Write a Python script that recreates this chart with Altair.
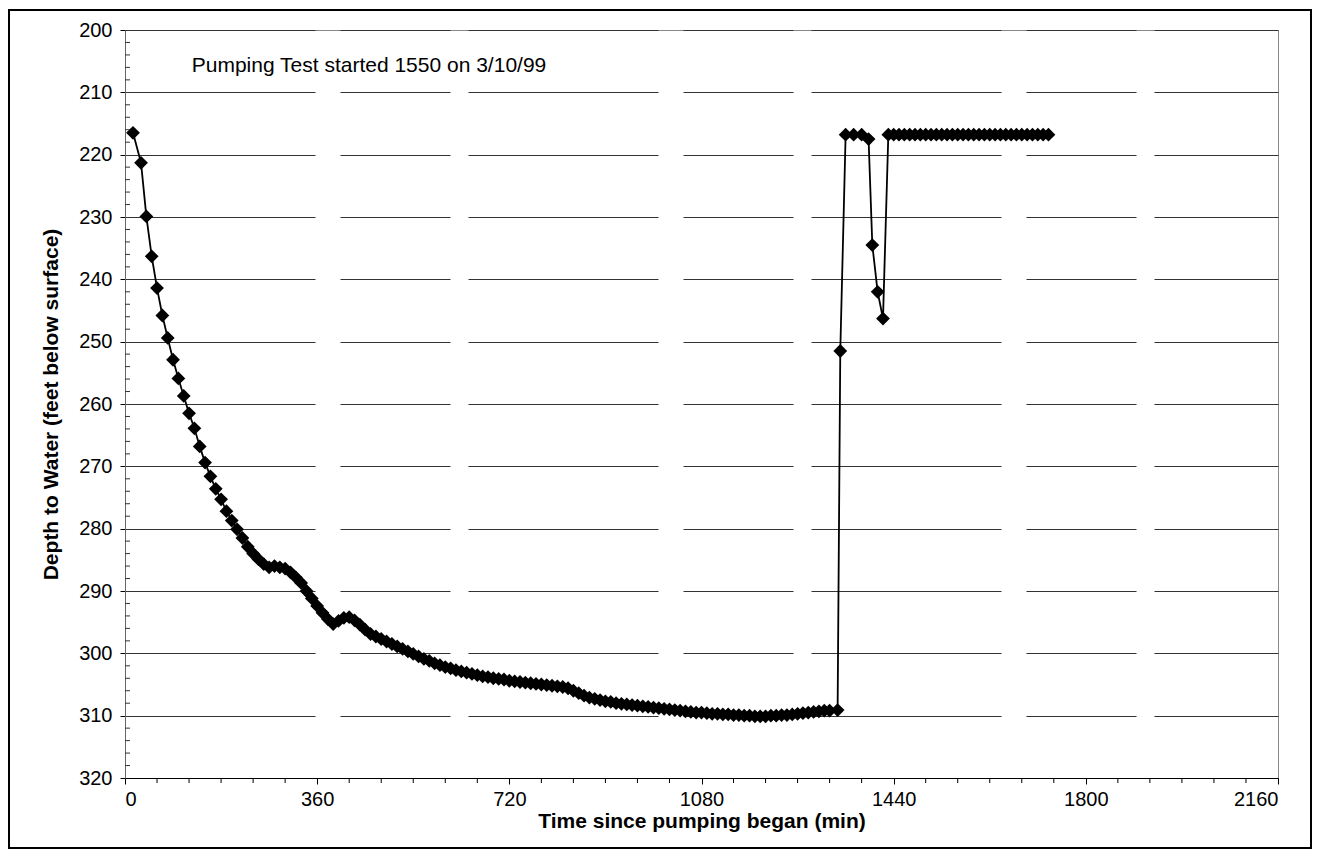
import altair as alt
import pandas as pd

# ---- data ----
drawdown_time = [15, 30, 40, 50, 60, 70, 80, 90, 100, 110,
                 120, 130, 140, 150, 160, 170, 180, 190, 200, 210,
                 220, 230, 240, 250, 260, 270, 280, 290, 300, 310,
                 320, 330, 340, 350, 360, 370, 380, 390, 400, 410,
                 420, 430, 440, 450, 460, 470, 480, 490, 500, 510,
                 520, 530, 540, 550, 560, 570, 580, 590, 600, 610,
                 620, 630, 640, 650, 660, 670, 680, 690, 700, 710,
                 720, 730, 740, 750, 760, 770, 780, 790, 800, 810,
                 820, 830, 840, 850, 860, 870, 880, 890, 900, 910,
                 920, 930, 940, 950, 960, 970, 980, 990, 1000, 1010,
                 1020, 1030, 1040, 1050, 1060, 1070, 1080, 1090, 1100, 1110,
                 1120, 1130, 1140, 1150, 1160, 1170, 1180, 1190, 1200, 1210,
                 1220, 1230, 1240, 1250, 1260, 1270, 1280, 1290, 1300, 1310,
                 1320, 1335]
drawdown_depth = [216.5, 221.3, 229.9, 236.3, 241.4, 245.8, 249.4, 252.9, 255.9, 258.7,
                  261.5, 263.9, 266.8, 269.4, 271.6, 273.6, 275.3, 277.2, 278.7, 280.1,
                  281.5, 282.9, 284.0, 284.9, 285.7, 286.2, 286.0, 286.2, 286.4, 287.0,
                  287.8, 288.7, 290.0, 291.2, 292.4, 293.5, 294.5, 295.3, 294.8, 294.3,
                  294.2, 294.7, 295.4, 296.2, 296.9, 297.3, 297.7, 298.1, 298.5, 298.9,
                  299.3, 299.7, 300.1, 300.5, 300.9, 301.2, 301.6, 301.9, 302.2, 302.4,
                  302.7, 302.9, 303.1, 303.3, 303.5, 303.7, 303.8, 304.0, 304.1, 304.2,
                  304.4, 304.5, 304.6, 304.7, 304.8, 304.9, 305.0, 305.1, 305.2, 305.3,
                  305.4, 305.6, 306.0, 306.4, 306.8, 307.1, 307.3, 307.5, 307.7, 307.8,
                  308.0, 308.1, 308.2, 308.3, 308.4, 308.5, 308.6, 308.7, 308.8, 308.9,
                  309.0, 309.1, 309.2, 309.3, 309.4, 309.5, 309.5, 309.6, 309.7, 309.7,
                  309.8, 309.8, 309.9, 309.9, 310.0, 310.0, 310.1, 310.1, 310.1, 310.0,
                  310.0, 309.9, 309.9, 309.8, 309.7, 309.6, 309.5, 309.4, 309.3, 309.2,
                  309.2, 309.1]

recovery_time = [1340, 1350, 1365, 1380, 1393, 1400, 1410, 1420,
                 1430, 1440, 1450, 1460, 1470, 1480, 1490, 1500, 1510, 1520,
                 1530, 1540, 1550, 1560, 1570, 1580, 1590, 1600, 1610, 1620,
                 1630, 1640, 1650, 1660, 1670, 1680, 1690, 1700, 1710, 1720, 1730]
recovery_depth = [251.5, 216.8, 216.8, 216.8, 217.5, 234.5, 242.0, 246.3,
                  216.8, 216.8, 216.8, 216.8, 216.8, 216.8, 216.8, 216.8, 216.8, 216.8,
                  216.8, 216.8, 216.8, 216.8, 216.8, 216.8, 216.8, 216.8, 216.8, 216.8,
                  216.8, 216.8, 216.8, 216.8, 216.8, 216.8, 216.8, 216.8, 216.8, 216.8, 216.8]

x_ticks = [0, 360, 720, 1080, 1440, 1800, 2160]
y_ticks = [200, 210, 220, 230, 240, 250, 260, 270, 280, 290, 300, 310, 320]
x_minor = [60, 120, 180, 240, 300, 420, 480, 540, 600, 660, 780, 840, 900, 960, 1020,
           1140, 1200, 1260, 1320, 1380, 1500, 1560, 1620, 1680, 1740,
           1860, 1920, 1980, 2040, 2100]
y_minor = [202, 204, 206, 208, 212, 214, 216, 218, 222, 224, 226, 228, 232, 234, 236, 238,
           242, 244, 246, 248, 252, 254, 256, 258, 262, 264, 266, 268, 272, 274, 276, 278,
           282, 284, 286, 288, 292, 294, 296, 298, 302, 304, 306, 308, 312, 314, 316, 318]

note_text = ["Pumping Test started 1550 on 3/10/99"]
note_time = [125]
note_depth = [205.7]

x_title = "Time since pumping began (min)"
y_title = "Depth to Water (feet below surface)"

# ---- tables ----
series = pd.DataFrame({
    "t": drawdown_time + recovery_time,
    "d": drawdown_depth + recovery_depth,
})
series["order"] = range(len(series))
notes = pd.DataFrame({"t": note_time, "d": note_depth, "label": note_text})
xminor_df = pd.DataFrame({"t": x_minor})
yminor_df = pd.DataFrame({"d": y_minor})
frame_df = pd.DataFrame({"a": [0]})

FONT = "Liberation Sans"
W, H = 1153, 748

xscale = alt.Scale(domain=[0, 2160], nice=False, zero=False)
yscale = alt.Scale(domain=[200, 320], nice=False, zero=False, reverse=True)

x_enc = alt.X("t:Q", scale=xscale, title=x_title,
              axis=alt.Axis(values=x_ticks, format="d", grid=False,
                            tickSize=6, tickColor="#000", domainColor="#000",
                            labelFontSize=20, labelPadding=5, labelColor="#000",
                            titleFontSize=21, titleFontWeight="bold", titlePadding=1,
                            titleColor="#000"))
y_enc = alt.Y("d:Q", scale=yscale, title=y_title,
              axis=alt.Axis(values=y_ticks, format="d", grid=True,
                            gridColor="#333", gridWidth=1, gridDash=[190, 25, 110, 18],
                            tickSize=5, tickColor="#000", domainColor="#666",
                            labelFontSize=20, labelPadding=8, labelColor="#000",
                            titleFontSize=21, titleFontWeight="bold", titlePadding=17,
                            titleColor="#000"))

line = alt.Chart(series).mark_line(color="#000", strokeWidth=1.8).encode(
    x=x_enc, y=y_enc, order="order:Q")
pts = alt.Chart(series).mark_point(shape="diamond", filled=True, size=190,
                                   color="#000", opacity=1).encode(
    x=alt.X("t:Q", scale=xscale), y=alt.Y("d:Q", scale=yscale))

note = alt.Chart(notes).mark_text(align="left", baseline="middle", fontSize=21,
                                  font=FONT, color="#000").encode(
    x=alt.X("t:Q", scale=xscale), y=alt.Y("d:Q", scale=yscale), text="label:N")

xminor = alt.Chart(xminor_df).mark_rule(color="#000", strokeWidth=1).encode(
    x=alt.X("t:Q", scale=xscale), y=alt.value(H), y2=alt.value(H + 5))
yminor = alt.Chart(yminor_df).mark_rule(color="#333", strokeWidth=1).encode(
    y=alt.Y("d:Q", scale=yscale), x=alt.value(0), x2=alt.value(5))

frame = alt.Chart(frame_df).mark_rect(fillOpacity=0, stroke="#000", strokeWidth=2).encode(
    x=alt.value(-116), x2=alt.value(1186), y=alt.value(-20), y2=alt.value(818))

chart = alt.layer(line, pts, note, xminor, yminor, frame).properties(
    width=W, height=H,
    autosize=alt.AutoSizeParams(type="none"),
    padding={"left": 117, "top": 22, "right": 35, "bottom": 71},
).configure(font=FONT).configure_view(stroke="#888", strokeWidth=1)

chart.save("out.html", embed_options={"renderer": "svg", "actions": False})
